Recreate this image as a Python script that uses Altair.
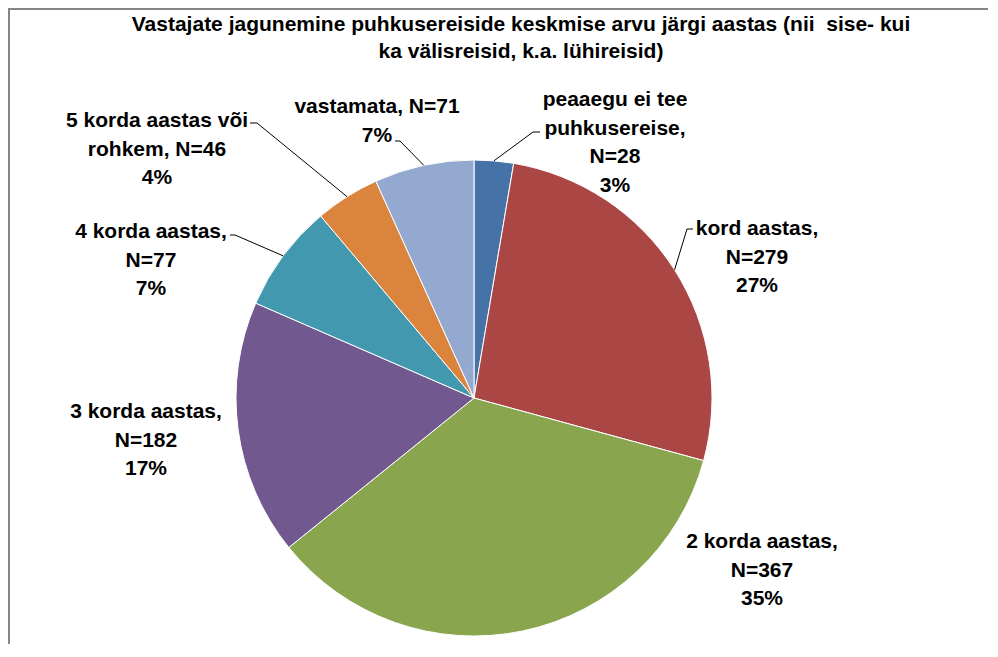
import altair as alt
import numpy as np
import pandas as pd

# ---- data ----
categories = [
    "peaaegu ei tee puhkusereise",
    "kord aastas",
    "2 korda aastas",
    "3 korda aastas",
    "4 korda aastas",
    "5 korda aastas või rohkem",
    "vastamata",
]
counts = [28, 279, 367, 182, 77, 46, 71]
label_heads = [
    "peaaegu ei tee\npuhkusereise,\n",
    "kord aastas,\n",
    "2 korda aastas,\n",
    "3 korda aastas,\n",
    "4 korda aastas,\n",
    "5 korda aastas või\nrohkem, ",
    "vastamata, ",
]
colors = ["#4572A7", "#AA4643", "#89A54E", "#71588F", "#4198AF", "#DB843D", "#93A9CF"]
title_lines = [
    "Vastajate jagunemine puhkusereiside keskmise arvu järgi aastas (nii\u00a0 sise- kui",
    "ka välisreisid, k.a. lühireisid)",
]

# ---- layout (pixels in plot area) ----
W, H = 980, 636
CX, CY, R = 466, 390, 238
FONT = "Liberation Sans"
label_anchor = [(607, 98), (749, 227), (754, 540), (138, 410), (143, 230), (149, 119), (369, 105)]
leader_ticks = [
    ((532, 124), (525, 124)),
    ((685, 221), (679, 221)),
    None,
    None,
    ((222, 227), (227, 227)),
    ((242, 115), (249, 115)),
    ((387, 133), (392, 133)),
]

total = sum(counts)
df = pd.DataFrame({"kategooria": categories, "N": counts, "order": list(range(len(counts)))})
df["pct"] = (df["N"] / total * 100).round().astype(int)
df["label"] = [h + f"N={n}\n{p}%" for h, n, p in zip(label_heads, df["N"], df["pct"])]
df["lx"] = [a[0] for a in label_anchor]
df["ly"] = [a[1] for a in label_anchor]

mid = (np.cumsum(counts) - np.array(counts) / 2) / total * 2 * np.pi
edge_x = CX + R * np.sin(mid)
edge_y = CY - R * np.cos(mid)

rows = []
for i, t in enumerate(leader_ticks):
    if t is None:
        continue
    pts = [t[0], t[1], (edge_x[i], edge_y[i])]
    for j, (px, py) in enumerate(pts):
        rows.append({"kategooria": categories[i], "i": j, "px": px, "py": py})
lead = pd.DataFrame(rows)

pie = alt.Chart(df).mark_arc(outerRadius=R, stroke="white", strokeWidth=1).encode(
    theta=alt.Theta("N:Q", stack=True),
    color=alt.Color("kategooria:N", scale=alt.Scale(domain=categories, range=colors), legend=None),
    order=alt.Order("order:Q"),
    x=alt.value(CX),
    y=alt.value(CY),
)

lines = alt.Chart(lead).mark_line(color="black", strokeWidth=1).encode(
    x=alt.X("px:Q", scale=None),
    y=alt.Y("py:Q", scale=None),
    detail="kategooria:N",
    order="i:Q",
)

labels = alt.Chart(df).mark_text(
    font=FONT, fontSize=21, fontWeight="bold", lineHeight=28.5,
    align="center", baseline="alphabetic", lineBreak="\n", color="black",
).encode(
    x=alt.X("lx:Q", scale=None),
    y=alt.Y("ly:Q", scale=None),
    text="label:N",
)

frame_top = alt.Chart(df.head(1)).mark_rule(color="#868686", strokeWidth=2).encode(
    x=alt.value(0), x2=alt.value(W), y=alt.value(1)
)
frame_left = alt.Chart(df.head(1)).mark_rule(color="#868686", strokeWidth=2).encode(
    x=alt.value(1), y=alt.value(0), y2=alt.value(H)
)

chart = alt.layer(pie, lines, labels, frame_top, frame_left).properties(
    width=W,
    height=H,
    autosize=alt.AutoSizeParams(type="none"),
    padding=0,
    title=alt.TitleParams(
        text=title_lines,
        font=FONT,
        fontSize=21,
        fontWeight="bold",
        color="black",
        anchor="middle",
        baseline="alphabetic",
        lineHeight=27,
        offset=0,
        dy=72,
        dx=23,
    ),
).configure_view(stroke=None).configure(background="white")

chart.save("out.html", embed_options={"renderer": "svg", "actions": False})
